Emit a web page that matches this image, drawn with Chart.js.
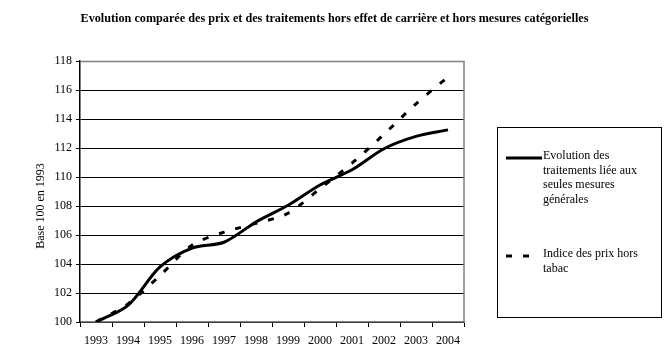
<!DOCTYPE html>
<html><head><meta charset="utf-8">
<script src="https://cdn.jsdelivr.net/npm/chart.js@4"></script>
<style>
html,body{margin:0;padding:0;background:#fff;}
#wrap{position:relative;width:669px;height:363px;}
#title{position:absolute;left:0;width:669px;top:11px;text-align:center;font:bold 12.2px "Liberation Serif";color:#000;}
#legend{position:absolute;left:497px;top:127px;width:165px;height:191px;border:1px solid #000;box-sizing:border-box;font:12px "Liberation Serif";color:#000;}
.item{position:absolute;left:8px;}
.txt{position:absolute;left:37px;width:112px;line-height:14.5px;}
</style></head>
<body><div id="wrap">
<canvas id="c" width="669" height="363"></canvas>
<div id="title">Evolution comparée des prix et des traitements hors effet de carrière et hors mesures catégorielles</div>
<div id="legend">
 <div class="item" style="top:22px;"><svg width="36" height="10"><line x1="0" y1="7" x2="36" y2="7" stroke="#000" stroke-width="3"/></svg><div class="txt" style="top:-2px;left:37px;">Evolution des traitements liée aux seules mesures générales</div></div>
 <div class="item" style="top:120px;"><svg width="36" height="10"><line x1="0" y1="7" x2="24" y2="7" stroke="#000" stroke-width="3" stroke-dasharray="6,11"/></svg><div class="txt" style="top:-2px;left:37px;">Indice des prix hors tabac</div></div>
</div>
</div>
<script>
const years = ['1993','1994','1995','1996','1997','1998','1999','2000','2001','2002','2003','2004'];
const traitements = [100.0, 101.15, 103.8, 105.1, 105.5, 106.9, 108.05, 109.45, 110.5, 111.95, 112.8, 113.25];
const prix = [100.0, 101.25, 103.2, 105.3, 106.2, 106.8, 107.5, 109.2, 110.95, 112.95, 115.05, 116.9];
const yMin = 100, yMax = 118, yStep = 2;
const yTitle = 'Base 100 en 1993';

const extras = {
  id:'extras',
  afterDraw(chart){
    const {ctx, chartArea:a} = chart;
    ctx.save();
    ctx.strokeStyle = '#808080'; ctx.lineWidth = 1.5;
    ctx.beginPath();
    ctx.moveTo(a.left, a.top+0.5); ctx.lineTo(a.right, a.top+0.5); ctx.lineTo(a.right, a.bottom);
    ctx.stroke();
    ctx.translate(41, 206);
    ctx.rotate(-Math.PI/2);
    ctx.fillStyle = '#000';
    ctx.font = '12px "Liberation Serif"';
    ctx.textAlign = 'center'; ctx.textBaseline = 'middle';
    ctx.fillText(yTitle, 0, 0);
    ctx.restore();
  }
};

new Chart(document.getElementById('c'), {
  type:'line',
  data:{labels:years, datasets:[
    {label:'Evolution des traitements liée aux seules mesures générales', data:traitements, borderColor:'#000', borderWidth:3, pointRadius:0, tension:0.3, fill:false},
    {label:'Indice des prix hors tabac', data:prix, borderColor:'#000', borderWidth:3, borderDash:[6,11], pointRadius:0, tension:0.3, fill:false}
  ]},
  plugins:[extras],
  options:{
    responsive:false, animation:false,
    layout:{padding:{top:61, right:205, bottom:0, left:0}},
    plugins:{legend:{display:false}, tooltip:{enabled:false}, title:{display:false}},
    scales:{
      x:{offset:true,
        grid:{offset:true, drawOnChartArea:false, drawTicks:true, tickLength:5, color:'#000'},
        border:{color:'#808080', width:1.5},
        ticks:{color:'#000', font:{family:'Liberation Serif', size:12}, padding:7, maxRotation:0, autoSkip:false},
        afterFit(s){ s.height = 41; }
      },
      y:{min:yMin, max:yMax,
        grid:{color:(c)=> c.tick && c.tick.value===yMax ? 'rgba(0,0,0,0)' : '#000', lineWidth:1, tickLength:4, tickColor:'#000'},
        border:{color:'#000', width:1.5},
        ticks:{stepSize:yStep, color:'#000', font:{family:'Liberation Serif', size:12}, padding:4},
        afterFit(s){ s.width = 80; }
      }
    }
  }
});
</script>
</body></html>
